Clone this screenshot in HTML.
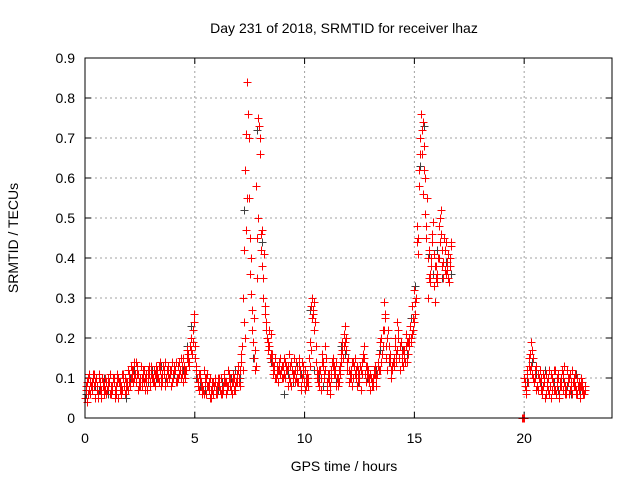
<!DOCTYPE html>
<html><head><meta charset="utf-8"><style>
body{margin:0;background:#fff;}
svg{display:block;font-family:"Liberation Sans",sans-serif;}
</style></head><body>
<svg id="chart" width="640" height="480">
<rect width="640" height="480" fill="#fff"/>
<text x="344" y="33" font-size="14" text-anchor="middle" fill="#000">Day 231 of 2018, SRMTID for receiver lhaz</text>
<text x="344" y="471" font-size="14" text-anchor="middle">GPS time / hours</text>
<text transform="translate(18,238) rotate(-90)" font-size="14" text-anchor="middle">SRMTID / TECUs</text>
<g id="grid"></g>
<g id="ticks"></g>
<g id="greyMarks" shape-rendering="crispEdges"></g>
<g id="redMarks" shape-rendering="crispEdges"></g>
<rect x="85" y="58" width="527" height="360" fill="none" stroke="#000" stroke-width="1"/>
</svg>
<script>
const xTicks=[0,5,10,15,20];
const yTicks=[0,0.1,0.2,0.3,0.4,0.5,0.6,0.7,0.8,0.9];
const yTickLabels=["0","0.1","0.2","0.3","0.4","0.5","0.6","0.7","0.8","0.9"];
const seg1Start=0, seg2Start=19.9, redStep=0.1, greyStep=0.2;
const redA1=[.05,.09,.11,.07,.08,.10,.06,.09,.08,.10,.07,.09,.06,.10,.08,.05,.09,.07,.10,.08,.11,.13,.12,.09,.07,.10,.08,.12,.09,.11,.13,.10,.08,.12,.14,.09,.11,.10,.13,.08,.10,.12,.09,.14,.11,.13,.12,.16,.18,.22,.15,.10,.07,.09,.12,.06,.08,.10,.07,.09,.06,.08,.10,.07,.09,.12,.08,.06,.10,.11,.09,.14,.30,.62,.84,.45,.22,.15,.58,.75,.46,.30,.26,.20,.18,.14,.12,.10,.09,.15,.13,.10,.12,.16,.08,.11,.14,.09,.12,.10,.07,.11,.15,.28,.26,.14,.09,.12,.16,.10,.07,.09,.12,.15,.11,.08,.13,.19,.21,.17,.09,.12,.10,.15,.08,.11,.14,.18,.09,.12,.07,.10,.13,.11,.16,.20,.29,.15,.22,.14,.12,.18,.24,.15,.19,.13,.21,.16,.23,.28,.32,.48,.62,.76,.56,.51,.30,.36,.44,.33,.38,.48,.52,.35,.42,.37,.40];
const redB1=[.07,.06,.09,.10,.05,.08,.11,.07,.06,.09,.10,.06,.08,.07,.11,.09,.06,.10,.07,.12,.08,.10,.14,.11,.09,.13,.10,.07,.12,.09,.10,.12,.11,.09,.10,.13,.08,.12,.11,.14,.12,.09,.13,.10,.15,.10,.17,.13,.20,.26,.12,.08,.10,.06,.09,.11,.07,.05,.09,.07,.09,.07,.06,.11,.08,.10,.07,.09,.08,.13,.12,.18,.42,.71,.55,.31,.19,.12,.35,.66,.38,.41,.22,.17,.21,.11,.15,.13,.12,.10,.15,.12,.08,.13,.11,.09,.12,.15,.07,.13,.10,.08,.19,.30,.22,.10,.12,.07,.13,.18,.10,.06,.14,.11,.08,.12,.16,.15,.23,.12,.11,.08,.13,.10,.12,.07,.16,.11,.13,.09,.09,.12,.08,.14,.12,.18,.25,.12,.18,.10,.15,.14,.20,.12,.16,.17,.14,.20,.19,.25,.29,.41,.70,.66,.62,.45,.35,.40,.49,.29,.34,.44,.38,.45,.36,.41,.44];
const redC1=[.08,.10,.06,.09,.11,.07,.10,.05,.09,.07,.08,.11,.07,.09,.06,.10,.08,.11,.06,.09,.09,.12,.10,.14,.11,.08,.12,.10,.07,.13,.11,.09,.13,.10,.12,.11,.14,.09,.10,.12,.11,.14,.10,.12,.13,.11,.15,.14,.17,.19,.18,.09,.11,.08,.06,.10,.09,.07,.06,.10,.08,.10,.07,.09,.06,.08,.10,.11,.07,.09,.10,.16,.24,.47,.76,.36,.27,.17,.45,.73,.42,.35,.24,.19,.15,.16,.13,.11,.14,.12,.10,.14,.13,.09,.12,.15,.10,.13,.08,.11,.12,.09,.13,.25,.29,.18,.11,.10,.14,.12,.09,.11,.10,.13,.14,.10,.11,.17,.19,.14,.12,.10,.14,.12,.10,.13,.11,.15,.11,.10,.10,.08,.11,.13,.19,.16,.22,.18,.15,.12,.14,.20,.17,.18,.14,.15,.18,.19,.20,.22,.26,.44,.58,.72,.68,.48,.40,.34,.46,.38,.36,.40,.46,.39,.44,.35,.38];
const redD1=[.04,.07,.08,.11,.09,.05,.07,.10,.08,.06,.09,.08,.10,.05,.09,.07,.11,.08,.09,.07,.10,.09,.11,.13,.08,.10,.09,.11,.10,.08,.09,.11,.10,.13,.08,.12,.10,.11,.12,.09,.13,.10,.11,.15,.09,.12,.14,.18,.16,.24,.13,.11,.08,.07,.10,.08,.05,.09,.08,.06,.10,.06,.08,.09,.07,.11,.09,.07,.09,.12,.08,.12,.20,.55,.70,.40,.25,.13,.50,.70,.47,.28,.20,.22,.16,.13,.10,.12,.11,.13,.11,.13,.10,.14,.10,.12,.09,.11,.14,.09,.08,.10,.17,.27,.24,.12,.08,.14,.11,.15,.11,.08,.13,.12,.10,.09,.14,.18,.20,.15,.10,.14,.11,.13,.09,.12,.15,.13,.10,.11,.08,.11,.10,.12,.14,.22,.26,.20,.16,.13,.13,.16,.22,.19,.17,.14,.19,.18,.21,.24,.30,.45,.66,.74,.60,.55,.42,.38,.41,.35,.40,.50,.42,.37,.39,.34,.43];
const redA2=[0,.10,.07,.13,.19,.15,.10,.08,.12,.06,.09,.11,.07,.05,.09,.12,.08,.06,.10,.13,.07,.09,.11,.06,.08,.10,.07,.08,.06];
const redB2=[0,.08,.12,.16,.11,.09,.13,.07,.10,.08,.05,.09,.12,.10,.07,.06,.11,.09,.07,.08,.12,.06,.09,.10,.07,.08,.05,.09,.07];
const redC2=[0,.09,.11,.15,.13,.10,.07,.11,.09,.07,.10,.08,.06,.11,.09,.07,.10,.08,.12,.09,.06,.10,.08,.09,.11,.06,.08,.07,.06];
const redD2=[0,.06,.09,.12,.17,.12,.08,.10,.07,.11,.06,.10,.08,.07,.12,.10,.05,.08,.11,.06,.10,.07,.12,.08,.06,.09,.10,.07,.08];
const grey1=[.06,.09,.08,.07,.10,.06,.08,.09,.07,.05,.10,.12,.08,.11,.09,.12,.10,.13,.09,.11,.11,.13,.12,.18,.23,.10,.08,.07,.09,.06,.07,.09,.08,.10,.12,.10,.52,.70,.15,.72,.44,.24,.14,.10,.13,.06,.11,.09,.13,.11,.09,.27,.12,.10,.08,.11,.14,.09,.18,.16,.10,.13,.09,.15,.10,.08,.12,.17,.26,.14,.14,.22,.17,.16,.25,.33,.63,.73,.41,.36,.42,.35,.39,.36];
const grey2=[0,.09,.14,.11,.08,.12,.06,.09,.07,.10,.08,.06,.11,.07,.08];

const NS="http://www.w3.org/2000/svg";
const X0=85,X1=612,Y0=418,Y1=58;
function xs(v){return X0+(v-0)/(24-0)*(X1-X0);}
function ys(v){return Y0-(v-0)/(0.9-0)*(Y0-Y1);}
function mk(tag,attrs,parent){const e=document.createElementNS(NS,tag);for(const k in attrs)e.setAttribute(k,attrs[k]);parent.appendChild(e);return e;}
const grid=document.getElementById('grid'),ticks=document.getElementById('ticks');
yTicks.forEach((v,i)=>{
  const y=ys(v);
  if(i>0&&i<yTicks.length-1){const g=mk('line',{x1:X0,x2:X1,y1:y,y2:y,stroke:'#a0a0a0','stroke-dasharray':'2,3'},grid);
  
  }
  mk('line',{x1:X0,x2:X0+6,y1:y,y2:y,stroke:'#000'},ticks);
  mk('line',{x1:X1,x2:X1-6,y1:y,y2:y,stroke:'#000'},ticks);
  const t=mk('text',{x:X0-10,y:y+5,'font-size':14,'text-anchor':'end'},ticks);t.textContent=yTickLabels[i];
  
  
});
xTicks.forEach(v=>{
  const x=xs(v);
  if(v>0){const g=mk('line',{x1:x,x2:x,y1:Y0,y2:Y1,stroke:'#a0a0a0','stroke-dasharray':'2,3'},grid);
  
  }
  mk('line',{x1:x,x2:x,y1:Y0,y2:Y0-6,stroke:'#000'},ticks);
  mk('line',{x1:x,x2:x,y1:Y1,y2:Y1+6,stroke:'#000'},ticks);
  const t=mk('text',{x:x,y:443,'font-size':14,'text-anchor':'middle'},ticks);t.textContent=String(v);
  
  
});
function plus(g,t,v,col){
  const x=Math.round(xs(t))+0.5,y=Math.round(ys(v))+0.5;
  const p=mk('path',{d:`M${x-4},${y}h8M${x},${y-4}v8`,stroke:col,'stroke-width':1,fill:'none'},g);
  
  
}
const gg=document.getElementById('greyMarks'),rg=document.getElementById('redMarks');
grey1.forEach((v,i)=>plus(gg,seg1Start+i*greyStep+0.05,v,'#404040'));
grey2.forEach((v,i)=>plus(gg,seg2Start+i*greyStep+0.05,v,'#404040'));
redA1.forEach((v,i)=>plus(rg,seg1Start+i*redStep,v,'#ff0000'));
redB1.forEach((v,i)=>plus(rg,seg1Start+i*redStep+0.05,v,'#ff0000'));
redC1.forEach((v,i)=>plus(rg,seg1Start+i*redStep+0.025,v,'#ff0000'));
redD1.forEach((v,i)=>plus(rg,seg1Start+i*redStep+0.075,v,'#ff0000'));
redA2.forEach((v,i)=>plus(rg,seg2Start+i*redStep,v,'#ff0000'));
redB2.forEach((v,i)=>plus(rg,seg2Start+i*redStep+0.05,v,'#ff0000'));
redC2.forEach((v,i)=>plus(rg,seg2Start+i*redStep+0.025,v,'#ff0000'));
redD2.forEach((v,i)=>plus(rg,seg2Start+i*redStep+0.075,v,'#ff0000'));
</script>
</body></html>
